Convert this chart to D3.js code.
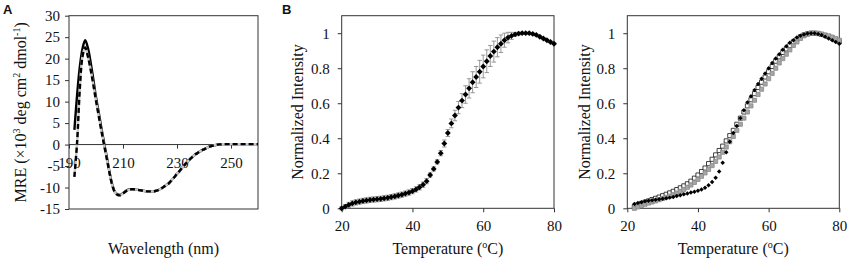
<!DOCTYPE html>
<html>
<head>
<meta charset="utf-8">
<script src="https://cdn.jsdelivr.net/npm/d3@7"></script>
<style>
  body { margin: 0; background: #fff; }
  svg text { font-family: "Liberation Serif", "Times New Roman", serif; fill: #111; }
  .panel-letter { font-family: "Liberation Sans", Arial, sans-serif; font-weight: bold; }
</style>
</head>
<body>
<svg width="850" height="263"></svg>
<script>
// ---- panel A : CD spectra ----
const wavelength = d3.range(192, 261);
const cdSolid = [3.4, 11.5, 18, 22.3, 24.3, 22.5, 19.2, 15.2, 11, 7.5, 3.8, 0.4, -2.9, -6.4, -9.3, -11, -11.6, -11.7, -11.3, -10.8,
  -10.5, -10.4, -10.4, -10.5, -10.6, -10.7, -10.8, -10.9, -10.9, -10.9, -10.8, -10.6, -10.3, -9.9, -9.4, -9, -8.3, -7.6, -6.8, -6.2,
  -5.3, -4.6, -3.9, -3.3, -2.7, -2.2, -1.8, -1.4, -1.1, -0.8, -0.5, -0.3, -0.15, 0, 0.05, 0.1, 0.1, 0.1, 0.1, 0.1,
  0.1, 0.1, 0.1, 0.1, 0.1, 0.1, 0.1, 0.1, 0.1];
const cdDashed = [-7.5, 0.5, 13, 20.5, 22.6, 20.5, 17.5, 14, 10.2, 6.7, 3.2, -0.1, -3.3, -6.6, -9.4, -11.1, -11.7, -11.8, -11.4, -10.9,
  -10.6, -10.4, -10.4, -10.5, -10.6, -10.7, -10.8, -10.9, -10.9, -10.9, -10.8, -10.6, -10.3, -9.9, -9.4, -9, -8.3, -7.6, -6.8, -6.1,
  -5.3, -4.6, -3.9, -3.3, -2.7, -2.2, -1.8, -1.4, -1.1, -0.8, -0.5, -0.3, -0.15, 0, 0.05, 0.1, 0.1, 0.1, 0.1, 0.1,
  0.1, 0.1, 0.1, 0.1, 0.1, 0.1, 0.1, 0.1, 0.1];
const cdXTicks = [190, 210, 230, 250];
const cdYTicks = [-15, -10, -5, 0, 5, 10, 15, 20, 25, 30];

// ---- panel B : thermal melts ----
const tempB1 = d3.range(20, 81);
const meltB1 = [0, 0.01, 0.02, 0.028, 0.034, 0.038, 0.042, 0.045, 0.048, 0.05, 0.052, 0.054, 0.057, 0.06, 0.064, 0.068, 0.073, 0.078, 0.084, 0.09,
  0.098, 0.108, 0.12, 0.135, 0.155, 0.19, 0.225, 0.265, 0.315, 0.37, 0.43, 0.485, 0.53, 0.575, 0.615, 0.65, 0.685, 0.72, 0.75, 0.78,
  0.81, 0.84, 0.87, 0.895, 0.92, 0.94, 0.96, 0.975, 0.985, 0.993, 0.998, 1, 1, 1, 0.996, 0.99, 0.98, 0.97, 0.96, 0.95, 0.94];
const errB1 = [0.01, 0.012, 0.014, 0.015, 0.015, 0.015, 0.015, 0.015, 0.015, 0.015, 0.015, 0.015, 0.015, 0.015, 0.015, 0.015, 0.015, 0.015, 0.015, 0.015,
  0.015, 0.015, 0.015, 0.015, 0.015, 0.012, 0.012, 0.012, 0.015, 0.02, 0.02, 0.025, 0.03, 0.035, 0.04, 0.05, 0.055, 0.06, 0.06, 0.065,
  0.065, 0.065, 0.06, 0.06, 0.055, 0.05, 0.04, 0.03, 0.02, 0.01, 0.008, 0.005, 0.005, 0.005, 0.005, 0.005, 0.005, 0.005, 0.005, 0.005, 0.005];

const tempB2 = d3.range(22, 81);
const meltB2Diamond = [0.025, 0.03, 0.035, 0.04, 0.043, 0.046, 0.049, 0.052, 0.055, 0.058, 0.061, 0.065, 0.07, 0.075, 0.08, 0.085, 0.09, 0.095,
  0.1, 0.108, 0.118, 0.132, 0.15, 0.175, 0.21, 0.26, 0.32, 0.38, 0.43, 0.47, 0.515, 0.56, 0.605, 0.64, 0.675, 0.71, 0.74, 0.77,
  0.8, 0.83, 0.855, 0.88, 0.905, 0.925, 0.945, 0.96, 0.975, 0.985, 0.993, 0.998, 1, 1, 0.995, 0.99, 0.98, 0.97, 0.96, 0.95, 0.94];
const meltB2Open = [0.01, 0.02, 0.028, 0.035, 0.042, 0.05, 0.057, 0.064, 0.072, 0.08, 0.088, 0.097, 0.107, 0.117, 0.128, 0.14, 0.155, 0.172,
  0.19, 0.21, 0.23, 0.255, 0.28, 0.305, 0.33, 0.355, 0.385, 0.415, 0.445, 0.48, 0.515, 0.55, 0.585, 0.62, 0.655, 0.69, 0.72, 0.75,
  0.78, 0.81, 0.84, 0.865, 0.89, 0.91, 0.93, 0.95, 0.965, 0.98, 0.99, 0.996, 1, 1, 0.998, 0.993, 0.987, 0.98, 0.972, 0.962, 0.952];
const meltB2Gray = [0, 0.008, 0.016, 0.023, 0.03, 0.036, 0.042, 0.049, 0.056, 0.063, 0.07, 0.078, 0.087, 0.097, 0.108, 0.12, 0.133, 0.148,
  0.165, 0.183, 0.202, 0.222, 0.244, 0.268, 0.293, 0.32, 0.35, 0.38, 0.41, 0.445, 0.48, 0.515, 0.55, 0.585, 0.617, 0.65, 0.68, 0.71,
  0.74, 0.77, 0.8, 0.83, 0.855, 0.88, 0.905, 0.93, 0.95, 0.97, 0.985, 0.995, 1, 1, 1, 0.995, 0.99, 0.985, 0.978, 0.97, 0.96];
const meltXTicks = [20, 40, 60, 80];
const meltYTicks = [0, 0.2, 0.4, 0.6, 0.8, 1];

const svg = d3.select("svg");
const axisColor = "#333";

function frame(g, x, y) {
    g.append("rect")
        .attr("x", x.range()[0]).attr("y", y.range()[1])
        .attr("width", x.range()[1] - x.range()[0])
        .attr("height", y.range()[0] - y.range()[1])
        .attr("fill", "none").attr("stroke", axisColor).attr("stroke-width", 1);
}

function styleAxis(sel) {
    sel.select(".domain").remove();
    sel.selectAll(".tick line").attr("stroke", axisColor);
    sel.selectAll(".tick text").attr("fill", "#111").style("font-size", "15px")
        .style("font-family", '"Liberation Serif", serif');
}

// ---------- A ----------
{
    const x = d3.scaleLinear().domain([190, 260]).range([69, 258]);
    const y = d3.scaleLinear().domain([-15, 30]).range([209, 15.7]);
    const g = svg.append("g");

    frame(g, x, y);
    g.append("line")
        .attr("x1", x(190)).attr("x2", x(260)).attr("y1", y(0)).attr("y2", y(0))
        .attr("stroke", axisColor);

    g.append("g")
        .attr("transform", `translate(${x(190)},0)`)
        .call(d3.axisLeft(y).tickValues(cdYTicks).tickSize(4).tickSizeOuter(0).tickPadding(5).tickFormat(d => String(d)))
        .call(styleAxis);

    g.append("g")
        .attr("transform", `translate(0,${y(0)})`)
        .call(d3.axisBottom(x).tickValues(cdXTicks).tickSize(4).tickSizeOuter(0).tickPadding(9).tickFormat(d => String(d)))
        .call(styleAxis);

    const line = d3.line().x((d, i) => x(wavelength[i])).y(d => y(d)).curve(d3.curveCatmullRom);

    g.append("path").datum(cdSolid).attr("d", line)
        .attr("fill", "none").attr("stroke", "#000").attr("stroke-width", 2.4);
    g.append("path").datum(cdDashed).attr("d", line)
        .attr("fill", "none").attr("stroke", "#c8c8c8").attr("stroke-width", 2.4);
    g.append("path").datum(cdDashed).attr("d", line)
        .attr("fill", "none").attr("stroke", "#000").attr("stroke-width", 2.4)
        .attr("stroke-dasharray", "5,3");

    g.append("text")
        .attr("x", (x(190) + x(260)) / 2).attr("y", 254)
        .attr("text-anchor", "middle").style("font-size", "16px")
        .text("Wavelength (nm)");

    const yl = g.append("text")
        .attr("transform", `translate(26,${(y(30) + y(-15)) / 2}) rotate(-90)`)
        .attr("text-anchor", "middle").style("font-size", "16px");
    yl.append("tspan").text("MRE (\u00d710");
    yl.append("tspan").attr("dy", -6).style("font-size", "10px").text("3");
    yl.append("tspan").attr("dy", 6).text(" deg cm");
    yl.append("tspan").attr("dy", -6).style("font-size", "10px").text("2");
    yl.append("tspan").attr("dy", 6).text(" dmol");
    yl.append("tspan").attr("dy", -6).style("font-size", "10px").text("-1");
    yl.append("tspan").attr("dy", 6).text(")");

    svg.append("text").attr("class", "panel-letter")
        .attr("x", 3).attr("y", 14).style("font-size", "13px").text("A");
}

// ---------- B ----------
function meltPanel(left, right, labelX) {
    const x = d3.scaleLinear().domain([20, 80]).range([left, right]);
    const y = d3.scaleLinear().domain([0, 1.1]).range([208.3, 15.7]);
    const g = svg.append("g");
    frame(g, x, y);

    g.append("g")
        .attr("transform", `translate(${left},0)`)
        .call(d3.axisLeft(y).tickValues(meltYTicks).tickSize(4).tickSizeOuter(0).tickPadding(8).tickFormat(d => String(d)))
        .call(styleAxis);
    g.append("g")
        .attr("transform", `translate(0,${y(0)})`)
        .call(d3.axisBottom(x).tickValues(meltXTicks).tickSize(4).tickSizeOuter(0).tickPadding(8).tickFormat(d => String(d)))
        .call(styleAxis);

    const xl = g.append("text")
        .attr("x", (left + right) / 2).attr("y", 254)
        .attr("text-anchor", "middle").style("font-size", "16px");
    xl.append("tspan").text("Temperature (");
    xl.append("tspan").attr("dy", -6).style("font-size", "10px").text("o");
    xl.append("tspan").attr("dy", 6).text("C)");

    g.append("text")
        .attr("transform", `translate(${labelX},${(y(0) + y(1.1)) / 2}) rotate(-90)`)
        .attr("text-anchor", "middle").style("font-size", "16px")
        .text("Normalized Intensity");
    return { g, x, y };
}

const square = (s) => d3.symbol().type(d3.symbolSquare).size(s)();

{
    const { g, x, y } = meltPanel(341.7, 554, 303);

    const err = g.append("g").attr("stroke", "#8c8c8c").attr("stroke-width", 0.9);
    tempB1.forEach((t, i) => {
        const cx = x(t), hi = y(meltB1[i] + errB1[i]), lo = y(meltB1[i] - errB1[i]);
        err.append("line").attr("x1", cx).attr("x2", cx).attr("y1", hi).attr("y2", lo);
        err.append("line").attr("x1", cx - 2.2).attr("x2", cx + 2.2).attr("y1", hi).attr("y2", hi);
        err.append("line").attr("x1", cx - 2.2).attr("x2", cx + 2.2).attr("y1", lo).attr("y2", lo);
    });

    g.append("g").selectAll("path")
        .data(meltB1)
        .enter().append("path")
        .attr("d", square(17))
        .attr("transform", (d, i) => `translate(${x(tempB1[i])},${y(d)}) rotate(45)`)
        .attr("fill", "#000");

    svg.append("text").attr("class", "panel-letter")
        .attr("x", 282).attr("y", 14).style("font-size", "13px").text("B");
}

{
    const { g, x, y } = meltPanel(627.3, 839.3, 590);

    g.append("g").selectAll("path")
        .data(meltB2Open)
        .enter().append("path")
        .attr("d", square(17))
        .attr("transform", (d, i) => `translate(${x(tempB2[i])},${y(d)})`)
        .attr("fill", "#fff").attr("stroke", "#111").attr("stroke-width", 0.8);

    g.append("g").selectAll("path")
        .data(meltB2Gray)
        .enter().append("path")
        .attr("d", square(17))
        .attr("transform", (d, i) => `translate(${x(tempB2[i])},${y(d)})`)
        .attr("fill", "#a6a6a6").attr("stroke", "#8a8a8a").attr("stroke-width", 0.8);

    g.append("g").selectAll("path")
        .data(meltB2Diamond)
        .enter().append("path")
        .attr("d", square(10))
        .attr("transform", (d, i) => `translate(${x(tempB2[i])},${y(d)}) rotate(45)`)
        .attr("fill", "#000");
}
</script>
</body>
</html>
